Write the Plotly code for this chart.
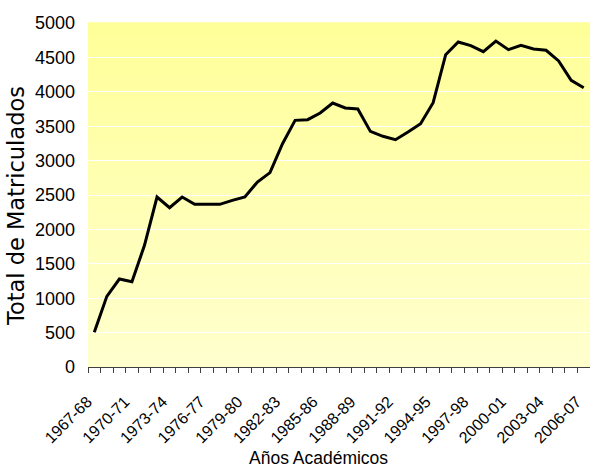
import plotly.graph_objects as go

years = [f"{y}-{str(y + 1)[-2:]}" for y in range(1967, 2007)]
matriculados = [505, 1027, 1279, 1240, 1768, 2471, 2316, 2471, 2364, 2364,
                2364, 2422, 2471, 2689, 2825, 3246, 3585, 3595, 3692, 3837,
                3765, 3750, 3425, 3353, 3304, 3416, 3537, 3842, 4540, 4724,
                4671, 4583, 4738, 4612, 4675, 4622, 4603, 4448, 4167, 4060]
y_ticks = list(range(0, 5001, 500))
label_step = 3

x_idx = list(range(len(years)))

fig = go.Figure()
fig.add_trace(go.Scatter(x=x_idx, y=matriculados, mode="lines",
                         line=dict(color="black", width=3), showlegend=False))

# vertical gradient background
n_bands = 80
top = (255, 255, 153)
bot = (255, 255, 206)
shapes = []
for i in range(n_bands):
    t = i / (n_bands - 1)
    c = tuple(round(bot[k] + (top[k] - bot[k]) * t) for k in range(3))
    shapes.append(dict(type="rect", xref="x domain", yref="y domain",
                       x0=0, x1=1, y0=i / n_bands, y1=(i + 1) / n_bands + 0.002,
                       fillcolor=f"rgb{c}", line=dict(width=0), layer="below"))

fam = "Liberation Sans, Arial, sans-serif"
tick_font_y = dict(family=fam, size=18, color="black")
tick_font_x = dict(family=fam, size=16, color="black")
xtitle_font = dict(family=fam, size=17.5, color="black")
ytitle_font = dict(family="DejaVu Sans, sans-serif", size=22.5, color="black")

fig.update_layout(
    width=590, height=469,
    margin=dict(l=88, r=0, t=23, b=102),
    paper_bgcolor="white", plot_bgcolor="white",
    shapes=shapes,
    xaxis=dict(
        range=[-0.5, len(years) - 0.5],
        tickmode="array",
        tickvals=x_idx[::label_step],
        ticktext=years[::label_step],
        tickangle=-45,
        ticks="", ticklen=0,
        ticklabeloverflow="allow",
        ticklabelstandoff=18,
        ticklabelshift=-7,
        showgrid=False, zeroline=False,
        showline=True, linecolor="#404040", linewidth=1,
        minor=dict(tickmode="linear", tick0=-0.5, dtick=1, ticks="outside",
                   ticklen=5, tickcolor="#404040", tickwidth=1, showgrid=False),
        tickfont=tick_font_x,
    ),
    yaxis=dict(
        range=[0, 5000],
        tickmode="array", tickvals=y_ticks,
        showgrid=True, gridcolor="white", gridwidth=1,
        zeroline=False, showline=False, ticks="",
        ticklabelstandoff=12,
        tickfont=tick_font_y,
    ),
    annotations=[
        dict(text="Años Académicos", xref="paper", yref="paper",
             x=0.46, y=-0.264, xanchor="center", yanchor="middle",
             showarrow=False, font=xtitle_font),
        dict(text="Total de Matriculados", xref="paper", yref="paper",
             x=-0.1434, y=0.468, xanchor="center", yanchor="middle",
             textangle=-90, showarrow=False, font=ytitle_font),
    ],
)

fig.write_html("out.html")
